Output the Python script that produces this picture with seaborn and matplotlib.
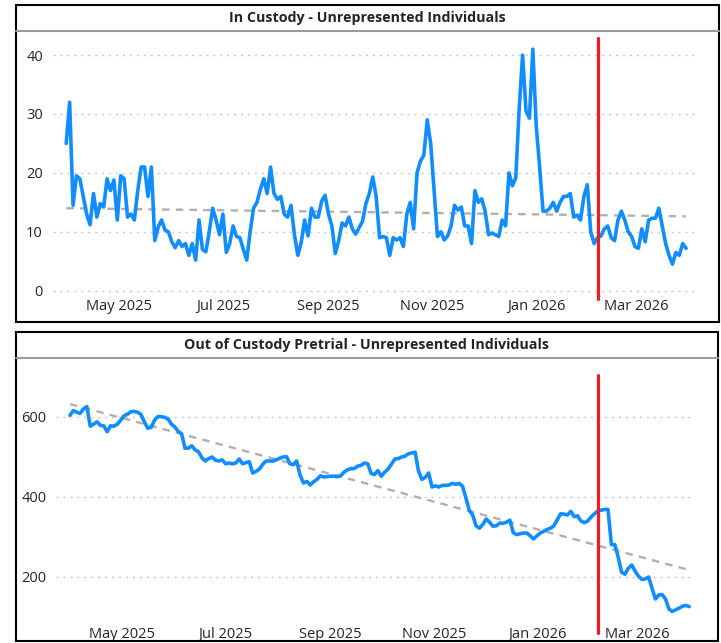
import numpy as np
import pandas as pd
import matplotlib
matplotlib.use("Agg")
import matplotlib.pyplot as plt
import matplotlib.dates as mdates
from matplotlib.patches import Rectangle
from matplotlib.lines import Line2D
import seaborn as sns

# in custody, one value every 2 days from 2025-03-31
in_custody = [25, 32, 14.5, 19.5, 19, 16, 13, 11.2, 16.5, 12.5, 14.8, 14.2, 19, 17, 18.8, 12,
              19.5, 19, 12.5, 13, 12, 17, 21, 21, 16, 21, 8.5, 10.8, 12, 10.3, 10, 8.3, 7.3, 8.5,
              7.5, 8, 6, 8, 5.2, 12, 7, 6.6, 10, 14, 12,
              9.5, 13, 6.5, 8, 11, 9.2, 9, 7, 5.2, 10, 14, 15, 17.2, 19, 16.5, 21, 16.5, 15.5,
              16, 13, 12.5, 14.5, 9.5, 6, 8.2, 12, 9.3, 14, 12.5, 12.5, 15.2, 16.2, 13, 11, 6.3,
              8.5, 11.5, 11, 12.5, 10.5, 9.6, 10.7, 11.8, 14.8, 16.5, 19.3, 16,
              9, 9.2, 9, 6, 9, 8.6, 9, 7.5, 13, 15, 10.5, 20, 22, 23, 29, 25, 17, 9.2, 10, 8.6,
              9.3, 11, 14.5, 13.7, 14.2, 11, 11, 8, 17, 15, 15.6, 13.5, 9.5, 9.8, 9.5, 9.2, 12,
              11, 20, 17.8, 19.2, 31, 40, 30.5, 29.3, 41, 28,
              21, 13.5, 13.5, 14, 15, 13.5, 15, 16, 16, 16.5, 12.5, 12.8, 12, 16, 18, 10, 8, 9,
              9.3, 10.5, 11, 9, 8.5, 12, 13.5, 12, 10, 9.2, 7.5, 7.2, 10.5, 8.3, 12, 12.3, 12.3,
              14, 11, 8, 6, 4.5, 6.5, 6, 8, 7.2]

# out of custody pretrial, one value every 2 days from 2025-03-31
out_custody = [604, 616, 612, 609, 620, 626, 577, 582, 588, 579,
               578, 563, 578, 577, 582, 592, 603, 607, 613, 614,
               612, 606, 588, 572, 574, 592, 601, 601, 599, 595,
               582, 575, 564, 558, 522, 522, 528, 518, 513, 498,
               490, 496, 500, 492, 490, 493, 483, 485, 483, 485,
               495, 483, 486, 488, 460, 464, 470, 482, 490, 490,
               490, 493, 497, 500, 501, 483, 481, 490, 455, 435,
               439, 430, 438, 444, 453, 450, 451, 452, 452, 451,
               453, 462, 468, 471, 471, 477, 479, 485, 483, 459,
               456, 466, 452, 462, 470, 482, 495, 496, 500, 502,
               508, 510, 512, 465, 444, 449, 460, 425, 428, 425,
               429, 429, 430, 434, 432, 434, 427, 398, 367, 355,
               328, 322, 331, 345, 337, 327, 328, 335, 334, 337,
               342, 311, 306, 308, 310, 310, 303, 295, 303, 310,
               314, 319, 322, 328, 343, 358, 357, 355, 364, 351,
               353, 340, 336, 340, 350, 358, 365, 367, 369, 369,
               281, 281, 250, 212, 207, 222, 230, 215, 202, 194,
               195, 200, 172, 145, 155, 156, 145, 120, 114, 118,
               122, 127, 129, 126]

titles = ["In Custody - Unrepresented Individuals",
          "Out of Custody Pretrial - Unrepresented Individuals"]
top_ticks = [0, 10, 20, 30, 40]
bottom_ticks = [200, 400, 600]
marker_date = pd.Timestamp("2026-02-06")
start_date = "2025-03-31"

sns.set_style("white")
plt.rcParams['font.family'] = ['Open Sans', 'DejaVu Sans']

W, H = 721, 643
fig = plt.figure(figsize=(W / 100, H / 100), dpi=100)


def box(x0, y0, x1, y1):
    # pixel coords -> figure fraction [left, bottom, width, height]
    return [x0 / W, 1 - y1 / H, (x1 - x0) / W, (y1 - y0) / H]


ax1 = fig.add_axes(box(52.6, 38, 694.6, 296))
ax2 = fig.add_axes(box(56.4, 375, 694.3, 620))

blue = "#118DFF"
xlim = (pd.Timestamp("2025-03-23"), pd.Timestamp("2026-04-04"))

panels = [(ax1, in_custody, top_ticks, (-0.9, 42.9), -0.01),
          (ax2, out_custody, bottom_ticks, (92.5, 705), -0.055)]

for ax, vals, ticks, ylim, red_bottom in panels:
    df = pd.DataFrame({"date": pd.date_range(start_date, periods=len(vals), freq="2D"),
                       "value": vals})
    # trend line (least squares)
    xn = mdates.date2num(df["date"])
    k, b = np.polyfit(xn, df["value"], 1)
    df["trend"] = k * xn + b
    sns.lineplot(data=df, x="date", y="trend", ax=ax, color="#B0B0B0", lw=1.7,
                 linestyle=(0, (3.2, 2.6)), zorder=2)
    sns.lineplot(data=df, x="date", y="value", ax=ax, color=blue, lw=2.6, zorder=3)
    ax.axvline(marker_date, ymin=red_bottom, ymax=1, color="#EE1C25", lw=2.3,
               clip_on=False, zorder=4)

    ax.set_xlim(xlim)
    ax.set_ylim(ylim)
    ax.set_yticks(ticks)
    ax.xaxis.set_major_locator(mdates.MonthLocator(bymonth=[1, 3, 5, 7, 9, 11]))
    ax.xaxis.set_major_formatter(mdates.DateFormatter("%b %Y"))
    ax.grid(axis="y", color="#C8C8C8", linestyle=(0, (1.5, 3.5)), lw=1)
    ax.grid(axis="x", visible=False)
    sns.despine(ax=ax, left=True, bottom=True)
    ax.set_xlabel("")
    ax.set_ylabel("")
    ax.tick_params(axis="both", length=0, labelsize=10.5, labelcolor="#252423")
    ax.tick_params(axis="y", pad=7)

ax1.tick_params(axis="x", pad=2)
ax2.tick_params(axis="x", pad=5)

# panel frames and title bars
for (x0, y0, x1, y1), ty, title in [((16, 5, 719, 322), 31, titles[0]),
                                    ((16, 332, 718, 641), 358, titles[1])]:
    fig.add_artist(Rectangle((x0 / W, 1 - y1 / H), (x1 - x0) / W, (y1 - y0) / H,
                             transform=fig.transFigure, fill=False,
                             edgecolor="black", lw=1.5))
    fig.add_artist(Line2D([x0 / W, x1 / W], [1 - ty / H, 1 - ty / H],
                          transform=fig.transFigure, color="#9A9A9A", lw=1.5))
    fig.text((x0 + x1) / 2 / W, 1 - (y0 + ty) / 2 / H, title, ha="center", va="center",
             fontsize=10.3, fontweight="bold", color="#252423")

fig.savefig("out.png", dpi=100)
